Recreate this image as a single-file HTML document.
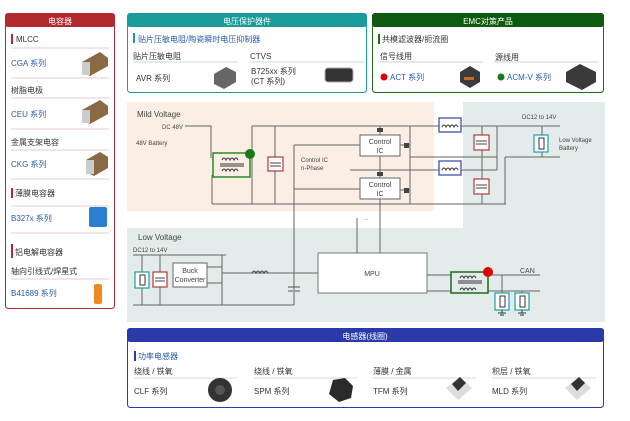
<!DOCTYPE html>
<html><head><meta charset="utf-8"><style>
html,body{margin:0;padding:0;background:#fff;width:630px;height:421px;overflow:hidden}
svg text{font-family:"Liberation Sans","Noto Sans CJK SC",sans-serif}
</style></head><body>
<svg width="630" height="421" viewBox="0 0 630 421" xmlns="http://www.w3.org/2000/svg">
<!-- backgrounds of circuit -->
<rect x="463" y="102" width="142" height="220" fill="#e3ecea"/>
<rect x="127" y="228" width="478" height="94" fill="#e3ecea"/>
<rect x="127" y="102" width="307" height="109" fill="#fbeee4"/>

<!-- LEFT PANEL -->
<rect x="5.5" y="13.5" width="109" height="295" rx="3" fill="#fff" stroke="#b22a30"/>
<rect x="5" y="13" width="110" height="14" rx="3" fill="#b22a30"/>
<text x="60" y="24" font-size="8" fill="#fff" text-anchor="middle">电容器</text>
<g font-size="8">
<rect x="11" y="34" width="2" height="10" fill="#b22a30"/>
<text x="16" y="42" fill="#333">MLCC</text>
<line x1="11" y1="48" x2="109" y2="48" stroke="#e8c8cc"/>
<text x="11" y="66" fill="#2a5caa">CGA 系列</text>
<line x1="11" y1="78" x2="109" y2="78" stroke="#e8c8cc"/>
<text x="11" y="93" fill="#333">树脂电极</text>
<line x1="11" y1="98" x2="109" y2="98" stroke="#e8c8cc"/>
<text x="11" y="117" fill="#2a5caa">CEU 系列</text>
<line x1="11" y1="129" x2="109" y2="129" stroke="#e8c8cc"/>
<text x="11" y="145" fill="#333">金属支架电容</text>
<line x1="11" y1="150" x2="109" y2="150" stroke="#e8c8cc"/>
<text x="11" y="167" fill="#2a5caa">CKG 系列</text>
<line x1="11" y1="179" x2="109" y2="179" stroke="#e8c8cc"/>
<rect x="11" y="188" width="2" height="10" fill="#b22a30"/>
<text x="15" y="196" fill="#333">薄膜电容器</text>
<line x1="11" y1="206" x2="109" y2="206" stroke="#e8c8cc"/>
<text x="11" y="221" fill="#2a5caa">B327x 系列</text>
<line x1="11" y1="233" x2="109" y2="233" stroke="#e8c8cc"/>
<rect x="11" y="244" width="2" height="14" fill="#b22a30"/>
<text x="15" y="255" fill="#333">铝电解电容器</text>
<text x="11" y="274" fill="#333">轴向引线式/焊星式</text>
<line x1="11" y1="279" x2="109" y2="279" stroke="#e8c8cc"/>
<text x="11" y="296" fill="#2a5caa">B41689 系列</text>
</g>
<!-- capacitor images -->
<g>
<polygon points="82,62 100,52 108,58 108,66 90,76 82,72" fill="#8a6a45"/><rect x="82" y="62" width="8" height="13" fill="#ccc"/>
<polygon points="82,110 100,100 108,106 108,114 90,124 82,120" fill="#8a6a45"/><rect x="82" y="110" width="8" height="13" fill="#ccc"/>
<polygon points="86,160 100,152 108,157 108,168 94,176 86,172" fill="#8a6a45"/><rect x="86" y="160" width="8" height="14" fill="#ccc"/>
<rect x="89" y="207" width="18" height="20" rx="2" fill="#2b7fd0"/>
<rect x="94" y="284" width="8" height="20" rx="2" fill="#f08a20"/>
</g>

<!-- TOP MIDDLE PANEL -->
<rect x="127.5" y="13.5" width="239" height="79" rx="3" fill="#fff" stroke="#1a9a9a"/>
<rect x="127" y="13" width="240" height="14" rx="3" fill="#1a9a9a"/>
<text x="247" y="24" font-size="8" fill="#fff" text-anchor="middle">电压保护器件</text>
<g font-size="8">
<rect x="133" y="33" width="2" height="10" fill="#1a9a9a"/>
<text x="138" y="42" fill="#2a5caa">贴片压敏电阻/陶瓷瞬时电压抑制器</text>
<text x="133" y="59" fill="#333">贴片压敏电阻</text>
<text x="250" y="59" fill="#333">CTVS</text>
<line x1="133" y1="62" x2="238" y2="62" stroke="#c8dede"/>
<line x1="250" y1="62" x2="365" y2="62" stroke="#c8dede"/>
<text x="136" y="81" fill="#333">AVR 系列</text>
<text x="251" y="74" fill="#333">B725xx 系列</text>
<text x="251" y="84" fill="#333">(CT 系列)</text>
</g>
<polygon points="214,74 226,67 236,72 236,82 224,89 214,84" fill="#666"/>
<rect x="325" y="68" width="28" height="14" rx="3" fill="#333" stroke="#aaa"/>

<!-- EMC PANEL -->
<rect x="372.5" y="13.5" width="231" height="79" rx="3" fill="#fff" stroke="#1d6a1d"/>
<rect x="372" y="13" width="232" height="14" rx="3" fill="#0e5a10"/>
<text x="488" y="24" font-size="8" fill="#fff" text-anchor="middle">EMC对策产品</text>
<g font-size="8">
<rect x="378" y="34" width="2" height="10" fill="#1d6a1d"/>
<text x="382" y="42" fill="#333">共模滤波器/扼流圈</text>
<text x="380" y="59" fill="#333">信号线用</text>
<text x="495" y="60" fill="#333">源线用</text>
<line x1="378" y1="62" x2="483" y2="62" stroke="#c8d8c8"/>
<line x1="494" y1="62" x2="599" y2="62" stroke="#c8d8c8"/>
<circle cx="384" cy="77" r="3.5" fill="#d00"/>
<text x="390" y="80" fill="#2a5caa">ACT 系列</text>
<circle cx="501" cy="77" r="3.5" fill="#1a7a1a"/>
<text x="507" y="80" fill="#2a5caa">ACM-V 系列</text>
</g>
<polygon points="460,72 470,66 480,72 480,82 470,88 460,82" fill="#3a3a3a"/><rect x="464" y="77" width="10" height="3" fill="#c86a20"/>
<polygon points="566,72 580,64 596,72 596,82 582,90 566,82" fill="#3a3a3a"/>

<!-- MILD VOLTAGE CIRCUIT -->
<g font-size="7" fill="#444">
<text x="137" y="117" font-size="8">Mild Voltage</text>
<text x="183" y="129" text-anchor="end" font-size="6">DC 48V</text>
<text x="136" y="145" font-size="6">48V Battery</text>
<text x="301" y="162" font-size="6">Control IC</text>
<text x="301" y="170" font-size="6">n-Phase</text>
<text x="522" y="119" font-size="6">DC12 to 14V</text>
<text x="559" y="142" font-size="6">Low Voltage</text>
<text x="559" y="150" font-size="6">Battery</text>
<text x="138" y="240" font-size="8">Low Voltage</text>
<text x="133" y="252" font-size="6">DC12 to 14V</text>
<text x="520" y="273" font-size="7">CAN</text>
<text x="363" y="220" font-size="5">....</text>
</g>
<g stroke="#666" stroke-width="1" fill="none">
<polyline points="185,126 211,126 211,158"/>
<line x1="252" y1="126" x2="470" y2="126"/>
<line x1="252" y1="126" x2="252" y2="204"/>
<line x1="212" y1="175" x2="212" y2="204"/>
<line x1="212" y1="204" x2="506" y2="204"/>
<line x1="275" y1="126" x2="275" y2="204"/>
<line x1="294" y1="145" x2="294" y2="290" />
<line x1="294" y1="145" x2="360" y2="145"/>
<line x1="294" y1="189" x2="360" y2="189"/>
<line x1="380" y1="126" x2="380" y2="135"/>
<line x1="380" y1="156" x2="380" y2="178"/>
<line x1="380" y1="199" x2="380" y2="253"/>
<line x1="357" y1="218" x2="357" y2="253"/>
<line x1="400" y1="145" x2="410" y2="145"/>
<line x1="400" y1="190" x2="410" y2="190"/>
<line x1="410" y1="126" x2="410" y2="204"/>
<line x1="410" y1="157" x2="497" y2="157"/>
<line x1="350" y1="170" x2="497" y2="170"/>
<line x1="470" y1="126" x2="560" y2="126"/>
<line x1="482" y1="126" x2="482" y2="204"/>
<line x1="497" y1="126" x2="497" y2="170"/>
<line x1="505" y1="157" x2="505" y2="204"/>
<line x1="505" y1="157" x2="560" y2="157"/>
<line x1="542" y1="126" x2="542" y2="157"/>
<!-- low voltage -->
<line x1="133" y1="255" x2="226" y2="255"/>
<line x1="133" y1="305" x2="294" y2="305"/>
<line x1="142" y1="255" x2="142" y2="305"/>
<line x1="160" y1="255" x2="160" y2="305"/>
<line x1="222" y1="255" x2="222" y2="305"/>
<line x1="207" y1="267" x2="222" y2="267"/>
<line x1="207" y1="283" x2="222" y2="283"/>
<line x1="222" y1="273" x2="318" y2="273"/>
<line x1="294" y1="292" x2="294" y2="305"/>
<line x1="427" y1="275" x2="540" y2="275"/>
<line x1="427" y1="291" x2="540" y2="291"/>
<line x1="502" y1="275" x2="502" y2="310"/>
<line x1="522" y1="291" x2="522" y2="310"/>
</g>
<!-- inductor curls -->
<path d="M252,273 q2,-4 4,0 q2,-4 4,0 q2,-4 4,0 q2,-4 4,0" stroke="#444" fill="none"/>
<rect x="251" y="270" width="18" height="6" fill="#e3ecea" opacity="0"/>
<!-- caps -->
<g stroke="#555"><line x1="288" y1="287" x2="300" y2="287"/><line x1="288" y1="291" x2="300" y2="291"/></g>

<!-- Transformer mild -->
<rect x="213" y="153" width="37" height="24" fill="#fbeee4" stroke="#2a8a2a" stroke-width="1.5"/>
<path d="M222,160 q2,-4 4,0 q2,-4 4,0 q2,-4 4,0 q2,-4 4,0" stroke="#333" fill="none"/>
<line x1="220" y1="164" x2="244" y2="164" stroke="#333"/><line x1="220" y1="166" x2="244" y2="166" stroke="#333"/>
<path d="M222,171 q2,-4 4,0 q2,-4 4,0 q2,-4 4,0 q2,-4 4,0" stroke="#333" fill="none"/>
<circle cx="250" cy="154" r="5" fill="#1a7a1a"/>
<!-- red caps -->
<g fill="#fff" stroke="#b23a3a" stroke-width="1.2">
<rect x="268" y="157" width="15" height="14"/>
<rect x="474" y="135" width="15" height="15"/>
<rect x="474" y="179" width="15" height="15"/>
<rect x="153" y="272" width="14" height="15"/>
</g>
<g stroke="#444"><line x1="270" y1="163" x2="281" y2="163"/><line x1="270" y1="166" x2="281" y2="166"/>
<line x1="476" y1="141" x2="487" y2="141"/><line x1="476" y1="144" x2="487" y2="144"/>
<line x1="476" y1="185" x2="487" y2="185"/><line x1="476" y1="188" x2="487" y2="188"/>
<line x1="155" y1="278" x2="165" y2="278"/><line x1="155" y1="281" x2="165" y2="281"/></g>
<!-- control ICs -->
<rect x="360" y="135" width="40" height="21" fill="#fff" stroke="#666"/>
<text x="380" y="144" font-size="7" text-anchor="middle" fill="#444">Control</text>
<text x="380" y="153" font-size="7" text-anchor="middle" fill="#444">IC</text>
<rect x="360" y="178" width="40" height="21" fill="#fff" stroke="#666"/>
<text x="380" y="187" font-size="7" text-anchor="middle" fill="#444">Control</text>
<text x="380" y="196" font-size="7" text-anchor="middle" fill="#444">IC</text>
<g fill="#444"><rect x="377" y="128" width="6" height="4"/><rect x="377" y="172" width="6" height="4"/><rect x="404" y="143" width="5" height="5"/><rect x="404" y="188" width="5" height="5"/></g>
<!-- blue inductors -->
<g fill="#fff" stroke="#3344aa" stroke-width="1.2"><rect x="439" y="118" width="22" height="14"/><rect x="439" y="161" width="22" height="14"/></g>
<path d="M442,127 q2,-4 4,0 q2,-4 4,0 q2,-4 4,0 q2,-4 4,0" stroke="#333" fill="none"/>
<path d="M442,170 q2,-4 4,0 q2,-4 4,0 q2,-4 4,0 q2,-4 4,0" stroke="#333" fill="none"/>
<!-- cyan varistors -->
<g fill="#fff" stroke="#1aa0a8" stroke-width="1.2">
<rect x="534" y="135" width="14" height="17"/>
<rect x="135" y="272" width="14" height="16"/>
<rect x="495" y="293" width="14" height="17"/>
<rect x="515" y="293" width="14" height="17"/>
</g>
<g stroke="#333"><rect x="539" y="138" width="5" height="11" fill="none"/><rect x="140" y="275" width="5" height="10" fill="none"/><rect x="500" y="296" width="5" height="11" fill="none"/><rect x="520" y="296" width="5" height="11" fill="none"/>
<line x1="502" y1="310" x2="502" y2="313"/><line x1="498" y1="313" x2="506" y2="313"/><line x1="500" y1="315" x2="504" y2="315"/>
<line x1="522" y1="310" x2="522" y2="313"/><line x1="518" y1="313" x2="526" y2="313"/><line x1="520" y1="315" x2="524" y2="315"/></g>
<!-- buck -->
<rect x="173" y="263" width="34" height="24" fill="#fff" stroke="#666"/>
<text x="190" y="273" font-size="7" text-anchor="middle" fill="#444">Buck</text>
<text x="190" y="282" font-size="7" text-anchor="middle" fill="#444">Converter</text>
<!-- MPU -->
<rect x="318" y="253" width="109" height="40" fill="#fff" stroke="#777"/>
<text x="372" y="276" font-size="7" text-anchor="middle" fill="#444">MPU</text>
<!-- CAN transformer -->
<rect x="451" y="272" width="37" height="21" fill="#e3ecea" stroke="#1d6a1d" stroke-width="1.5"/>
<path d="M460,278 q2,-4 4,0 q2,-4 4,0 q2,-4 4,0 q2,-4 4,0" stroke="#333" fill="none"/>
<line x1="458" y1="281" x2="482" y2="281" stroke="#333"/><line x1="458" y1="283" x2="482" y2="283" stroke="#333"/>
<path d="M460,290 q2,-4 4,0 q2,-4 4,0 q2,-4 4,0 q2,-4 4,0" stroke="#333" fill="none"/>
<circle cx="488" cy="272" r="5" fill="#d00"/>

<!-- BOTTOM PANEL -->
<rect x="127.5" y="328.5" width="476" height="79" rx="3" fill="#fff" stroke="#2a3aa8"/>
<rect x="127" y="328" width="477" height="14" rx="3" fill="#2a3aa8"/>
<text x="365" y="339" font-size="8" fill="#fff" text-anchor="middle">电感器(线圈)</text>
<g font-size="8">
<rect x="134" y="351" width="2" height="10" fill="#2a3aa8"/>
<text x="138" y="359" fill="#2a5caa">功率电感器</text>
<text x="134" y="374" fill="#333">绕线 / 铁氧</text>
<text x="254" y="374" fill="#333">绕线 / 铁氧</text>
<text x="373" y="374" fill="#333">薄膜 / 金属</text>
<text x="492" y="374" fill="#333">积层 / 铁氧</text>
<line x1="134" y1="378" x2="237" y2="378" stroke="#d0d4e8"/>
<line x1="254" y1="378" x2="357" y2="378" stroke="#d0d4e8"/>
<line x1="373" y1="378" x2="476" y2="378" stroke="#d0d4e8"/>
<line x1="492" y1="378" x2="596" y2="378" stroke="#d0d4e8"/>
<text x="134" y="394" fill="#333">CLF 系列</text>
<text x="254" y="394" fill="#333">SPM 系列</text>
<text x="373" y="394" fill="#333">TFM 系列</text>
<text x="492" y="394" fill="#333">MLD 系列</text>
</g>
<circle cx="220" cy="390" r="12" fill="#333"/><circle cx="220" cy="390" r="5" fill="#555"/>
<polygon points="333,380 345,378 353,386 351,398 339,402 329,394" fill="#2a2a2a"/>
<polygon points="446,388 460,377 472,388 458,400" fill="#ddd"/><polygon points="452,384 460,377 466,383 458,391" fill="#333"/>
<polygon points="565,388 579,377 591,388 577,400" fill="#ddd"/><polygon points="571,384 579,377 585,383 577,391" fill="#333"/>
</svg>
</body></html>
